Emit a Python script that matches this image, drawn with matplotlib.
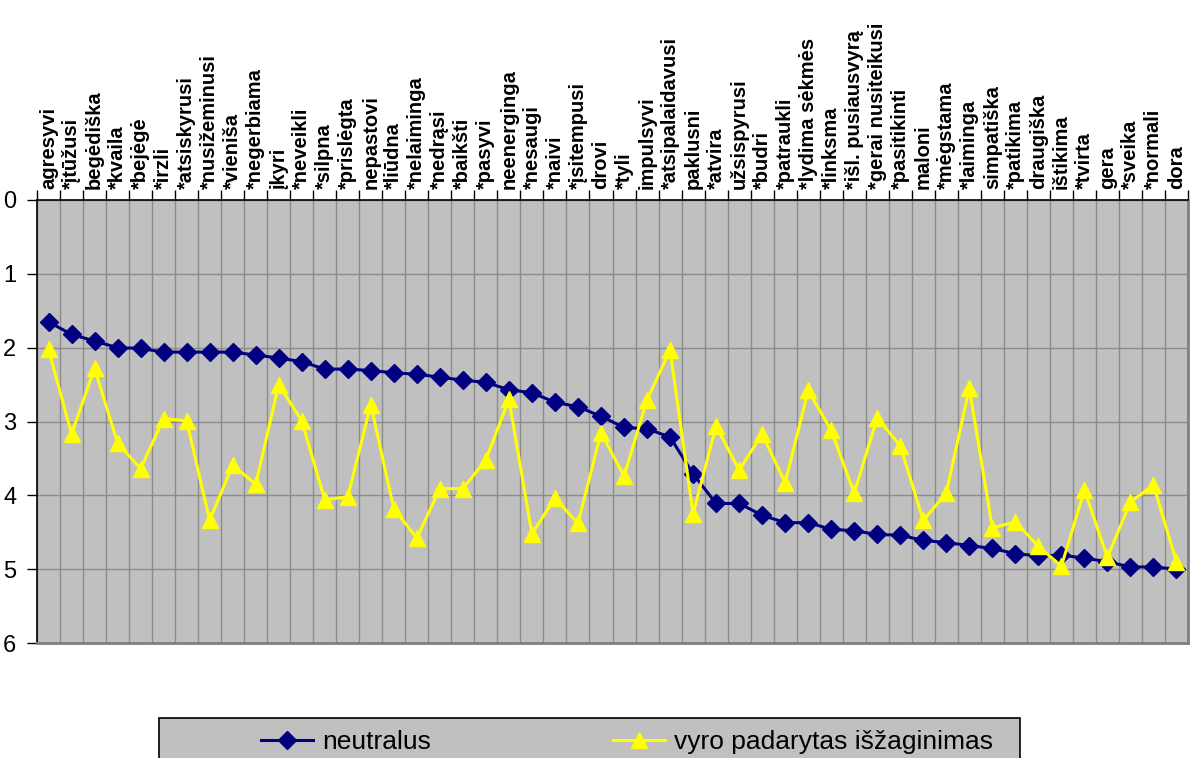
import numpy as np
import matplotlib.pyplot as plt
from matplotlib.patches import Rectangle
from matplotlib.lines import Line2D

# Data
labels = [
    "agresyvi", "*įtūžusi", "begėdiška", "*kvaila", "*bejėgė", "*irzli",
    "*atsiskyrusi", "*nusižeminusi", "*vieniša", "*negerbiama", "įkyri",
    "*neveikli", "*silpna", "*prislėgta", "nepastovi", "*liūdna",
    "*nelaiminga", "*nedrąsi", "*baikšti", "*pasyvi", "neenerginga",
    "*nesaugi", "*naivi", "*įsitempusi", "drovi", "*tyli", "impulsyvi",
    "*atsipalaidavusi", "paklusni", "*atvira", "užsispyrusi", "*budri",
    "*patraukli", "*lydima sėkmės", "*linksma", "*išl. pusiausvyrą",
    "*gerai nusiteikusi", "*pasitikinti", "maloni", "*mėgstama",
    "*laiminga", "simpatiška", "*patikima", "draugiška", "ištikima",
    "*tvirta", "gera", "*sveika", "*normali", "dora",
]
neutralus = [
    1.65, 1.82, 1.91, 2.00, 2.01, 2.06, 2.06, 2.06, 2.06, 2.10,
    2.14, 2.19, 2.29, 2.29, 2.31, 2.34, 2.36, 2.40, 2.44, 2.47,
    2.57, 2.61, 2.74, 2.80, 2.93, 3.08, 3.10, 3.21, 3.71, 4.11,
    4.11, 4.27, 4.37, 4.37, 4.46, 4.48, 4.53, 4.54, 4.61, 4.64,
    4.68, 4.72, 4.79, 4.82, 4.81, 4.85, 4.90, 4.97, 4.97, 5.00,
]
iszaginimas = [
    2.02, 3.17, 2.28, 3.29, 3.64, 2.96, 2.99, 4.34, 3.59, 3.85,
    2.50, 2.99, 4.06, 4.02, 2.77, 4.18, 4.58, 3.91, 3.91, 3.52,
    2.70, 4.52, 4.04, 4.38, 3.15, 3.74, 2.71, 2.03, 4.25, 3.06,
    3.66, 3.17, 3.83, 2.58, 3.12, 3.97, 2.95, 3.33, 4.34, 3.97,
    2.55, 4.44, 4.36, 4.69, 4.96, 3.93, 4.84, 4.09, 3.86, 4.90,
]
series_names = ["neutralus", "vyro padarytas išžaginimas"]

plt.rcParams['font.family'] = ['Liberation Sans', 'DejaVu Sans']

fig = plt.figure(figsize=(11.92, 7.58), dpi=100)
ax = fig.add_axes([37 / 1192, 1 - 643 / 758, 1151 / 1192, 443 / 758])
ax.set_facecolor('#C0C0C0')

n = len(labels)
x = np.arange(n)
ax.plot(x, neutralus, color='#000080', lw=2.2, marker='D', ms=9,
        mfc='#000080', mec='#000080', zorder=3)
ax.plot(x, iszaginimas, color='#FFFF00', lw=2.2, marker='^', ms=12,
        mfc='#FFFF00', mec='#FFFF00', zorder=3)

ax.set_xlim(-0.5, n - 0.5)
ax.set_ylim(6, 0)

# category labels on top, boundaries as minor ticks / grid
ax.xaxis.tick_top()
ax.set_xticks(x)
ax.set_xticklabels(labels, rotation=90, fontsize=14.5, fontweight='bold',
                   va='bottom', ha='center')
ax.tick_params(axis='x', which='major', length=0, pad=8)
ax.set_xticks(np.arange(n + 1) - 0.5, minor=True)
ax.tick_params(axis='x', which='minor', length=7, width=1, color='black', top=True)
ax.grid(True, axis='x', which='minor', color='#8C8C8C', lw=1)

ax.set_yticks(range(7))
ax.tick_params(axis='y', length=7, width=1, labelsize=17, pad=8)
ax.grid(True, axis='y', which='major', color='#8C8C8C', lw=1)
ax.set_axisbelow(True)

for side in ['top', 'left']:
    ax.spines[side].set_color('black')
    ax.spines[side].set_linewidth(1.2)
for side in ['bottom', 'right']:
    ax.spines[side].set_color('#808080')
    ax.spines[side].set_linewidth(2)

# legend box
fig.patches.append(Rectangle((159 / 1192, -0.02), (1020 - 159) / 1192, (758 - 718) / 758 + 0.02,
                             transform=fig.transFigure, facecolor='#C0C0C0',
                             edgecolor='black', lw=1.2, zorder=0))
handles = [
    Line2D([], [], color='#000080', lw=2.2, marker='D', ms=9),
    Line2D([], [], color='#FFFF00', lw=2.2, marker='^', ms=12),
]
fig.legend(handles, series_names, loc='center left',
           bbox_to_anchor=(237 / 1192, 1 - 742 / 758), frameon=False,
           ncol=2, fontsize=19, handlelength=1.97, handletextpad=0.34,
           columnspacing=6.9)

fig.savefig('out.png', dpi=100)
